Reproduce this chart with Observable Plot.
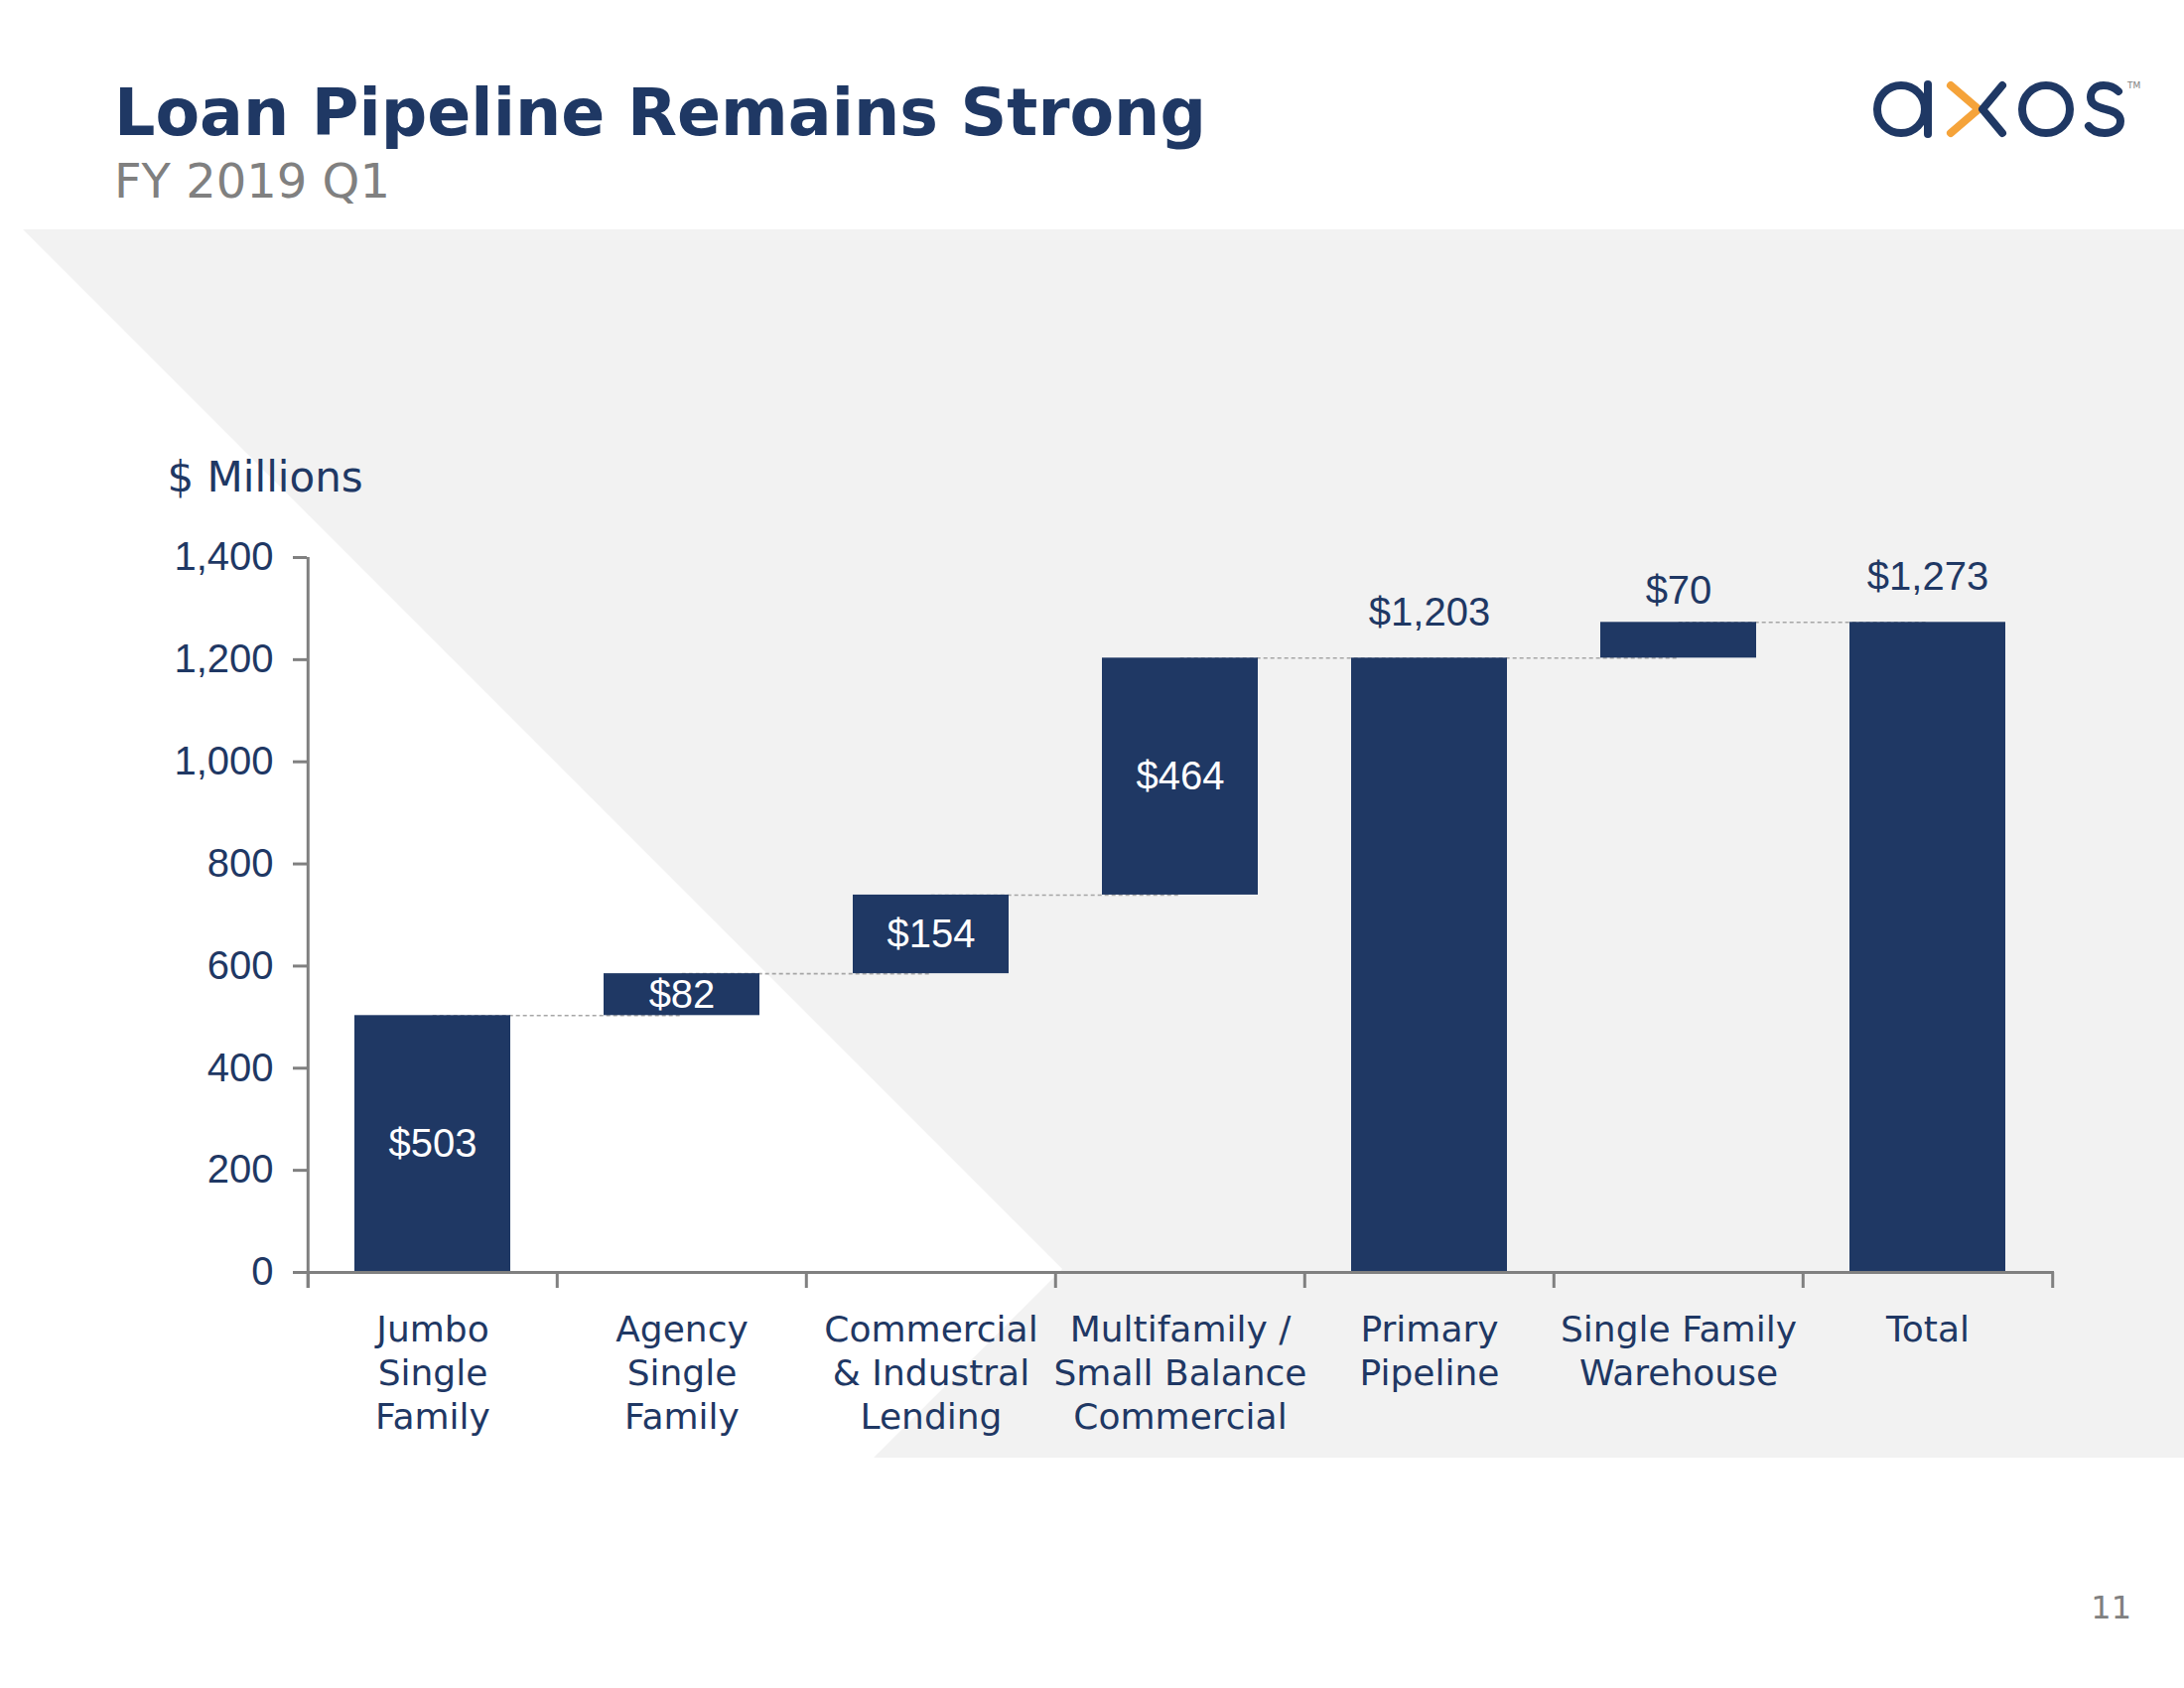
<!DOCTYPE html>
<html>
<head>
<meta charset="utf-8">
<script src="https://cdn.jsdelivr.net/npm/d3@7"></script>
<script src="https://cdn.jsdelivr.net/npm/@observablehq/plot@0.6"></script>
<style>
  html, body { margin: 0; padding: 0; background: #fff; }
  #page { position: relative; width: 2200px; height: 1700px; overflow: hidden; background: #fff; }
  #bg { position: absolute; left: 0; top: 0; width: 2200px; height: 1700px; background: #f2f2f2;
        clip-path: polygon(23px 231px, 2200px 231px, 2200px 1468px, 880px 1468px, 1070px 1278px); }
  #deco { position: absolute; left: 0; top: 0; }
  #chart { position: absolute; left: 0; top: 0; }
  #chart svg { background: transparent !important; overflow: visible; }
</style>
</head>
<body>
<div id="page">
  <div id="bg"></div>
  <svg id="deco" width="2200" height="1700" xmlns="http://www.w3.org/2000/svg">
    <text x="115" y="136" font-family="DejaVu Sans" font-weight="bold" font-size="65" fill="#1f3864">Loan Pipeline Remains Strong</text>
    <text x="115" y="199" font-family="DejaVu Sans" font-size="48" fill="#808080">FY 2019 Q1</text>
    <text x="2147" y="1630" font-family="DejaVu Sans" font-size="32" fill="#808080" text-anchor="end">11</text>
    <g fill="none" stroke-width="8" stroke-linecap="round" stroke-linejoin="round">
      <circle cx="1915" cy="110" r="24" stroke="#1f3864"/>
      <line x1="1942" y1="85" x2="1942" y2="135" stroke="#1f3864"/>
      <polyline points="1965,86 1993,110 1965,134" stroke="#f5a33a"/>
      <polyline points="2017,86 1997,110 2017,134" stroke="#1f3864"/>
      <circle cx="2061" cy="110" r="24" stroke="#1f3864"/>
      <path d="M2134 92 C2129 87 2124 86 2119 86 C2110 86 2106 92 2106 98 C2106 106 2114 108 2121 110 C2130 112 2136 116 2136 122 C2136 130 2128 134 2120 134 C2113 134 2107 131 2104 127" stroke="#1f3864"/>
    </g>
    <text x="2143" y="89" font-family="DejaVu Sans" font-size="9" fill="#808080">TM</text>
  </svg>
  <div id="chart"></div>
</div>
<script>
// ---- data ----
const categories = [
  "Jumbo Single Family",
  "Agency Single Family",
  "Commercial & Industral Lending",
  "Multifamily / Small Balance Commercial",
  "Primary Pipeline",
  "Single Family Warehouse",
  "Total"
];
const tickLabels = [
  "Jumbo\nSingle\nFamily",
  "Agency\nSingle\nFamily",
  "Commercial\n& Industral\nLending",
  "Multifamily /\nSmall Balance\nCommercial",
  "Primary\nPipeline",
  "Single Family\nWarehouse",
  "Total"
];
const values = [503, 82, 154, 464, 1203, 70, 1273];
const kinds = ["step", "step", "step", "step", "total", "step", "total"];
const labelPosition = ["inside", "inside", "inside", "inside", "above", "above", "above"];
const yTicks = [0, 200, 400, 600, 800, 1000, 1200, 1400];
const unitLabel = "$ Millions";

// ---- build waterfall table ----
let running = 0;
const rows = categories.map((name, i) => {
  let start, end;
  if (kinds[i] === "total") { start = 0; end = values[i]; running = values[i]; }
  else { start = running; end = running + values[i]; running = end; }
  return { name, start, end, value: values[i], kind: kinds[i], pos: labelPosition[i],
           label: "$" + d3.format(",")(values[i]) };
});
const connectors = rows.slice(0, -1).map((r, i) => ({ from: r.name, to: rows[i + 1].name, level: r.end }));
const tickMap = new Map(categories.map((c, i) => [c, tickLabels[i]]));

// ---- layout ----
const W = 2200, H = 1700;
const mL = 309, mR = 131, mT = 561, mB = 419;
const padInner = 0.374, padOuter = padInner / 2;
const step = (W - mL - mR) / categories.length;
const bw = step * (1 - padInner);
const navy = "#1f3864", gray = "#808080";
const sans = "Liberation Sans, Arial, sans-serif";
const verd = "DejaVu Sans, Verdana, sans-serif";

const chart = Plot.plot({
  width: W, height: H,
  marginLeft: mL, marginRight: mR, marginTop: mT, marginBottom: mB,
  style: { background: "transparent", overflow: "visible" },
  x: { domain: categories, paddingInner: padInner, paddingOuter: padOuter },
  y: { domain: [0, 1400] },
  marks: [
    // dashed connectors
    Plot.ruleY(connectors, { y: "level", x1: "from", x2: "to", insetLeft: bw / 2, insetRight: bw / 2,
      stroke: "#a6a6a6", strokeWidth: 1.6, strokeDasharray: "4,3" }),
    // bars
    Plot.barY(rows, { x: "name", y1: "start", y2: "end", fill: navy }),
    // axes
    Plot.axisY({ ticks: yTicks, tickFormat: d3.format(","), tickSize: 14, tickPadding: 20,
      stroke: gray, strokeWidth: 3, fill: navy, fontSize: 40, fontFamily: sans, label: null }),
    Plot.axisX({ tickSize: 0, tickPadding: 38, tickFormat: d => tickMap.get(d), fill: navy,
      fontSize: 36, fontFamily: verd, lineHeight: 1.222, label: null }),
    Plot.ruleY([0], { stroke: gray, strokeWidth: 3 }),
    // y axis line (at left boundary of first band)
    Plot.ruleX([categories[0]], { dx: -step / 2, y1: 1400, y2: 0, insetBottom: -16, stroke: gray, strokeWidth: 3 }),
    // category boundary ticks
    Plot.ruleX(categories, { dx: -step / 2, y1: 0, y2: 0, insetBottom: -16, stroke: gray, strokeWidth: 3 }),
    Plot.ruleX([categories[categories.length - 1]], { dx: step / 2, y1: 0, y2: 0, insetBottom: -16, stroke: gray, strokeWidth: 3 }),
    // value labels
    Plot.text(rows.filter(r => r.pos === "inside"), { x: "name", y: r => (r.start + r.end) / 2, text: "label",
      fill: "white", fontSize: 40, fontFamily: sans }),
    Plot.text(rows.filter(r => r.pos === "above" && r.kind === "total"), { x: "name", y: "end", text: "label", dy: -46,
      fill: navy, fontSize: 40, fontFamily: sans }),
    Plot.text(rows.filter(r => r.pos === "above" && r.kind !== "total"), { x: "name", y: "end", text: "label", dy: -32,
      fill: navy, fontSize: 40, fontFamily: sans }),
    // unit label
    Plot.text([unitLabel], { frameAnchor: "top-left", text: d => d, dx: 168 - mL, dy: 494 - mT, textAnchor: "start",
      lineAnchor: "bottom", fill: navy, fontSize: 42, fontFamily: verd })
  ]
});
document.getElementById("chart").appendChild(chart);
</script>
</body>
</html>
